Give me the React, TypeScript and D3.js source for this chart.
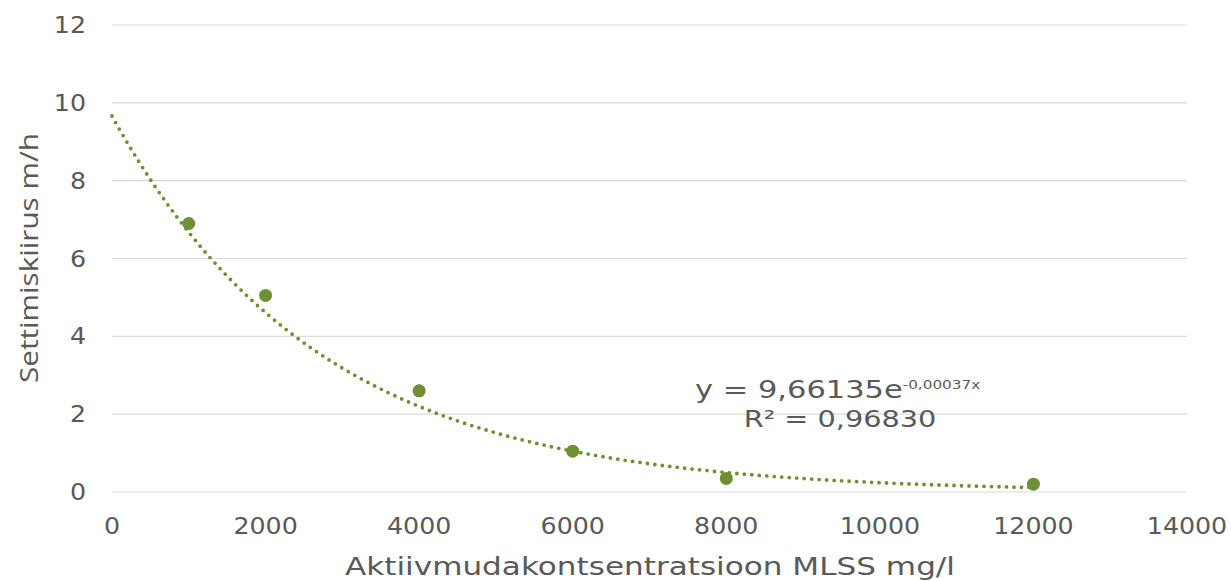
import React from 'react';
import * as d3 from 'd3';

// measured points (MLSS mg/l -> settling speed m/h)
const mlss = [1000, 2000, 4000, 6000, 8000, 12000];
const speed = [6.9, 5.05, 2.6, 1.05, 0.35, 0.2];
const xTicks = [0, 2000, 4000, 6000, 8000, 10000, 12000, 14000];
const yTicks = [0, 2, 4, 6, 8, 10, 12];
const fitA = 9.66135;
const fitB = -0.00037;

const W = 1231;
const H = 581;
const GREEN = '#6e8f33';
const GREY = '#595959';
const FONT = 'DejaVu Sans, Verdana, sans-serif';
const SX = 1.1; // the source picture is stretched sideways

const App = () => {
  const x = d3.scaleLinear().domain([0, 14000]).range([112, 1187]);
  const y = d3.scaleLinear().domain([0, 12]).range([492, 25]);

  const trendX = d3.range(0, 12001, 50);
  const trend = d3.line<number>()
    .x(d => x(d))
    .y(d => y(fitA * Math.exp(fitB * d)));

  const label = (tx: number, ty: number, txt: string, anchor: string, size = 23, sx = SX) => (
    <text
      key={txt + tx + ty}
      transform={`translate(${tx},${ty}) scale(${sx},1)`}
      textAnchor={anchor}
      fontSize={size}
      fill={GREY}
      fontFamily={FONT}
    >{txt}</text>
  );

  return (
    <svg width={W} height={H} style={{ position: 'absolute', left: 0, top: 0, background: '#fff' }}>
      {yTicks.map(t => (
        <line key={t} x1={x(0)} x2={x(14000)} y1={y(t)} y2={y(t)} stroke="#d9d9d9" strokeWidth={1.2} />
      ))}
      {yTicks.map(t => label(86, y(t) + 8, String(t), 'end'))}
      {xTicks.map(t => label(x(t), 534, d3.format('d')(t), 'middle'))}

      <path
        d={trend(trendX) || ''}
        fill="none"
        stroke={GREEN}
        strokeWidth={3.8}
        strokeLinecap="round"
        strokeDasharray="0 7.5"
      />
      {mlss.map((m, i) => (
        <circle key={m} cx={x(m)} cy={y(speed[i])} r={6.5} fill={GREEN} />
      ))}

      <text transform="translate(695,398) scale(1.27,1)" fontSize={24} fill={GREY} fontFamily={FONT}>
        y = 9,66135e<tspan fontSize={12} dy={-9}>-0,00037x</tspan>
      </text>
      {label(840, 427, 'R² = 0,96830', 'middle', 23, 1.25)}

      <text
        x={650}
        y={575}
        textAnchor="middle"
        fontSize={25}
        fill={GREY}
        fontFamily={FONT}
        textLength={610}
        lengthAdjust="spacingAndGlyphs"
      >Aktiivmudakontsentratsioon MLSS mg/l</text>
      <text
        transform="translate(38,258) rotate(-90)"
        textAnchor="middle"
        fontSize={25}
        fill={GREY}
        fontFamily="Open Sans, sans-serif"
        textLength={250}
        lengthAdjust="spacingAndGlyphs"
      >Settimiskiirus m/h</text>
    </svg>
  );
};

export default App;
